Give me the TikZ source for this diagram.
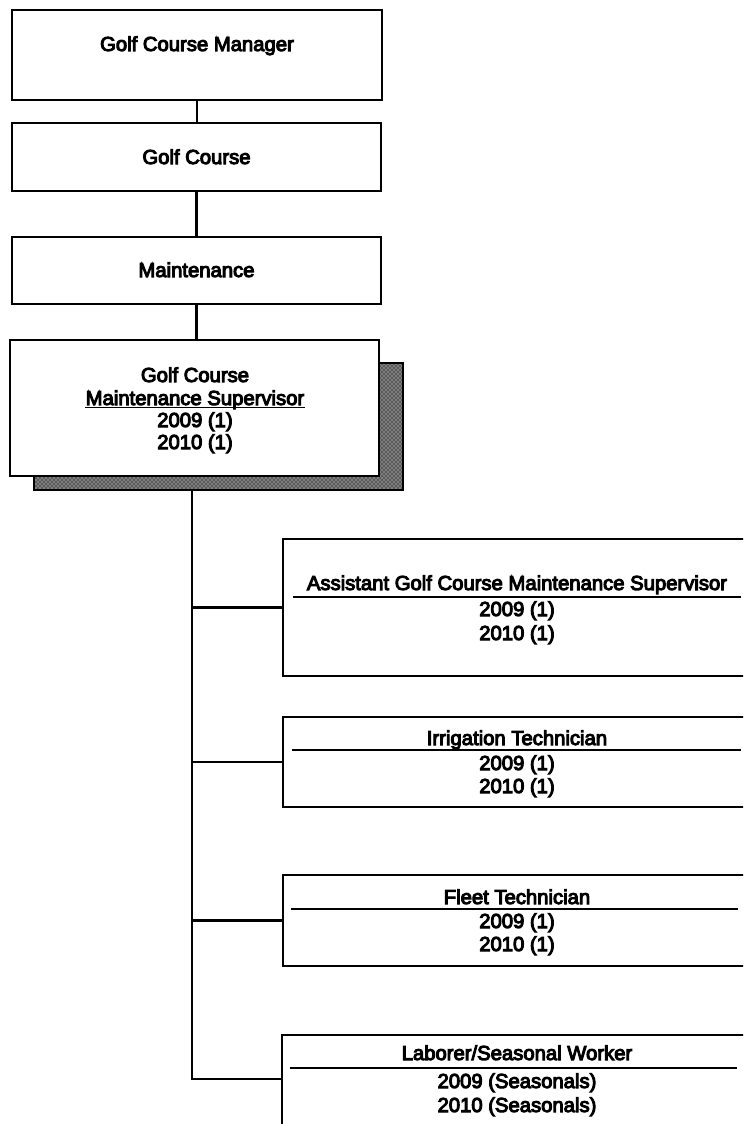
\documentclass[tikz,border=0pt]{standalone}
\usepackage{fontspec}
\newfontfamily\scanfont{Liberation Sans}[FakeBold=5]
\usetikzlibrary{fit,patterns}
\tikzset{
  box/.style={draw, line width=1.8pt, fill=white, inner sep=0pt},
  conn/.style={line width=1.8pt},
  lbl/.style={anchor=base, inner sep=0pt, font=\scanfont\fontsize{15.2}{18}\selectfont},
  rulel/.style={line width=2pt},
}
\begin{document}
\begin{tikzpicture}[x=0.75pt,y=-0.75pt]
\useasboundingbox (0,0) rectangle (743,1124);
\clip (0,0) rectangle (743,1124);
% top chain
\node[box, fit={(12,10)(382,100)}] (mgr) {};
\node[lbl] (mgrT) at (197,51) {Golf Course Manager};
\node[box, fit={(12,123)(381,191)}] (gc) {};
\node[lbl] (gcT) at (196.5,164) {Golf Course};
\node[box, fit={(12,237)(381,304)}] (mt) {};
\node[lbl] (mtT) at (196.5,277) {Maintenance};
% supervisor with shadow
\fill[black!65] (34,363) rectangle (403,490);
\fill[pattern=crosshatch dots, pattern color=white] (34,363) rectangle (403,490);
\draw[line width=1pt] (34,363) rectangle (403,490);
\node[box, fit={(10,340)(379,476)}] (sup) {};
\node[lbl] (supA) at (195,382) {Golf Course};
\node[lbl] (supB) at (195,405) {Maintenance Supervisor};
\node[lbl] (supC) at (195,427) {2009 (1)};
\node[lbl] (supD) at (195,449) {2010 (1)};
\draw[line width=1.3pt] ([yshift=-1.8pt]supB.base west) -- ([yshift=-1.8pt]supB.base east);
% connectors top
\draw[conn] (mgr.south) -- (mgr.south |- gc.north);
\draw[conn] (gc.south) -- (gc.south |- mt.north);
\draw[conn] (mt.south) -- (mt.south |- sup.north);
% child boxes
\node[box, fit={(283,539)(752,676)}] (asst) {};
\node[lbl] (asstT) at (517,590) {Assistant Golf Course Maintenance Supervisor};
\draw[rulel] (293,597) -- (741,597);
\node[lbl] (asstA) at (517,616) {2009 (1)};
\node[lbl] (asstB) at (517,640) {2010 (1)};

\node[box, fit={(283,717)(752,807)}] (irr) {};
\node[lbl] (irrT) at (517,745) {Irrigation Technician};
\draw[rulel] (292,750) -- (741,750);
\node[lbl] (irrA) at (517,770) {2009 (1)};
\node[lbl] (irrB) at (517,793) {2010 (1)};

\node[box, fit={(283,875)(752,966)}] (flt) {};
\node[lbl] (fltT) at (517,904) {Fleet Technician};
\draw[rulel] (291,909) -- (738,909);
\node[lbl] (fltA) at (517,928) {2009 (1)};
\node[lbl] (fltB) at (517,951) {2010 (1)};

\node[box, fit={(282,1035)(752,1127)}] (lab) {};
\node[lbl] (labT) at (517,1060) {Laborer/Seasonal Worker};
\draw[rulel] (290,1068) -- (737,1068);
\node[lbl] (labA) at (517,1088) {2009 (Seasonals)};
\node[lbl] (labB) at (517,1112) {2010 (Seasonals)};
% trunk
\coordinate (t0) at (192,490);
\coordinate (tb) at (192,1079);
\draw[conn] (t0) -- (tb) -- (tb -| lab.west);
\draw[conn] (asst.west -| t0) -- (asst.west);
\draw[conn] (irr.west -| t0) -- (irr.west);
\draw[conn] (flt.west -| t0) -- (flt.west);
\end{tikzpicture}
\end{document}
